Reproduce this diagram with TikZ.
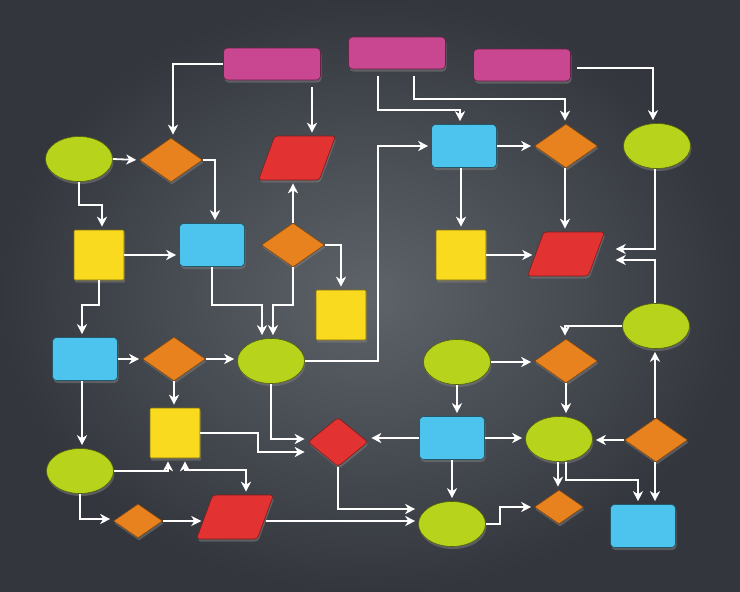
\documentclass[tikz,border=0pt]{standalone}
\usepackage{tikz}
\usetikzlibrary{arrows,arrows.meta,shapes.geometric,shadows}
\definecolor{bgcore}{HTML}{5E636A}
\definecolor{bgedge}{HTML}{33373D}
\definecolor{flowpink}{HTML}{C94690}
\definecolor{flowgreen}{HTML}{B7D31B}
\definecolor{floworange}{HTML}{E8821E}
\definecolor{flowred}{HTML}{E23232}
\definecolor{flowblue}{HTML}{4DC4EE}
\definecolor{flowyellow}{HTML}{F9DA1F}

\begin{document}
\begin{tikzpicture}[->,>={Stealth[length=10pt,width=10pt,inset=3pt]},
                    shorten >=3pt,x=1pt,y=-1pt,white,line width=1.8pt]
\tikzstyle{block}=[inner sep=0pt,line width=.6pt,
  drop shadow={shadow xshift=1pt,shadow yshift=-2.5pt,opacity=.5}]
\tikzstyle{term}=[block,ellipse,fill=flowgreen,draw=flowgreen!45!black,
  minimum width=67pt,minimum height=45pt]
\tikzstyle{dec}=[block,diamond,fill=floworange,draw=floworange!55!black,
  minimum width=63pt,minimum height=44pt]
\tikzstyle{smalldec}=[dec,minimum width=49pt,minimum height=34pt]
\tikzstyle{io}=[block,trapezium,trapezium left angle=70,
  trapezium right angle=110,trapezium stretches=true,inner sep=3pt,
  rounded corners=3pt,fill=flowred,draw=flowred!55!black,
  minimum width=77pt,minimum height=44pt]
\tikzstyle{proc}=[block,rectangle,rounded corners=4pt,fill=flowblue,
  draw=flowblue!45!black,minimum width=65pt,minimum height=43pt]
\tikzstyle{data}=[block,rectangle,rounded corners=1pt,fill=flowyellow,
  draw=flowyellow!50!black,minimum size=50pt]
\tikzstyle{start}=[block,rectangle,rounded corners=4pt,fill=flowpink,
  draw=flowpink!50!black,minimum width=97pt,minimum height=32pt]
\tikzstyle{check}=[block,diamond,rounded corners=3pt,fill=flowred,
  draw=flowred!55!black,minimum width=60pt,minimum height=49pt]

\shade[inner color=bgcore,outer color=bgedge] (0,0) rectangle (740,592);

\node[start] (p1) at (272,64) {};
\node[start] (p2) at (397,53) {};
\node[start] (p3) at (522,65) {};
\node[term] (e1) at (79,159) {};
\node[dec] (d1) at (171,160) {};
\node[io] (r1) at (297,158) {};
\node[proc] (b1) at (464,146) {};
\node[dec] (d2) at (566,146) {};
\node[term] (e2) at (657,146) {};
\node[data] (y1) at (99,255) {};
\node[proc] (b2) at (212,245) {};
\node[dec] (d3) at (293,245) {};
\node[data] (y2) at (341,315) {};
\node[data] (y3) at (461,255) {};
\node[io] (r2) at (566,254) {};
\node[term] (e3) at (656,326) {};
\node[proc] (b3) at (85,359) {};
\node[dec] (d4) at (174,359) {};
\node[term] (e4) at (271,361) {};
\node[term] (e5) at (457,362) {};
\node[dec] (d5) at (566,361) {};
\node[data] (y4) at (175,433) {};
\node[check] (rd) at (338,442) {};
\node[proc] (b4) at (452,438) {};
\node[term] (e6) at (559,439) {};
\node[dec] (d6) at (656,440) {};
\node[term] (e7) at (80,471) {};
\node[smalldec] (d7) at (138,521) {};
\node[io] (r3) at (235,517) {};
\node[term] (e8) at (452,524) {};
\node[smalldec] (d8) at (559,507) {};
\node[proc] (b5) at (643,526) {};

% top row
\draw (p1.west) -| ([xshift=2pt]d1.north);
\draw[shorten <=7pt] ([xshift=40pt]p1.south) -- ([xshift=15pt]r1.north);
\draw[shorten <=7pt] ([xshift=-19pt]p2.south) -- ++(0,41)
  -| ([xshift=-4pt]b1.north);
\draw[shorten <=7pt] ([xshift=17pt]p2.south) -- ++(0,30)
  -| ([xshift=-1pt]d2.north);
\draw[shorten <=6pt] ([yshift=-3pt]p3.east) -| ([xshift=-4pt]e2.north);

% left part
\draw (e1.east) -- (d1.west);
\draw (d1.east) -| ([xshift=3pt]b2.north);
\draw (e1.south) -- ++(0,23) -| ([xshift=3pt]y1.north);
\draw (y1.east) -- (y1.east -| b2.west);
\draw (d3.north) -- (d3.north |- r1.south);
\draw (d3.east) -| (y2.north);
\draw (y1.south) -- ++(0,25) -| ([xshift=-3pt]b3.north);
\draw (b2.south) -- ++(0,38) -| ([xshift=-9pt]e4.north);
\draw (d3.south) -- ++(0,38) -| ([xshift=2pt]e4.north);
\draw (b3.east) -- (d4.west);
\draw (d4.east) -- (d4.east -| e4.west);
\draw (d4.south) -- (d4.south |- y4.north);
\draw (e4.east) -- ++(73,0) |- (b1.west);
\draw ([xshift=-3pt]b3.south) -- ([xshift=-3pt]b3.south |- e7.north);
\draw (y4.east) -- ++(58,0) |- ([yshift=-10pt]rd.west);
\draw (e4.south) |- ([yshift=3pt]rd.west);
\draw (e7.east) -| ([xshift=-7pt]y4.south);
\draw[<->,shorten <=3pt] ([xshift=10pt]y4.south) -- ++(0,12)
  -| ([xshift=11pt]r3.north);
\draw (e7.south) |- ([yshift=2pt]d7.west);
\draw (d7.east) -- (d7.east -| r3.west);
\draw ([yshift=-4pt]r3.east) -- ([yshift=-4pt]r3.east -| e8.west);
\draw (rd.south) |- ([yshift=15pt]e8.west);

% right part
\draw (b1.east) -- (d2.west);
\draw ([xshift=-3pt]b1.south) -- ([xshift=-3pt]b1.south |- y3.north);
\draw ([xshift=-1pt]d2.south) -- ([xshift=-1pt]d2.south |- r2.north);
\draw (y3.east) -- (y3.east -| r2.west);
\draw ([xshift=-2pt]e2.south) |- ([xshift=16pt,yshift=5pt]r2.east);
\draw ([xshift=-1pt]e3.north) |- ([xshift=16pt,yshift=-6pt]r2.east);
\draw (e3.west) -| ([xshift=-1pt]d5.north);
\draw (e5.east) -- (e5.east -| d5.west);
\draw (e5.south) -- (e5.south |- b4.north);
\draw (d5.south) -- (d5.south |- e6.north);
\draw (b4.west) -- (b4.west -| rd.east);
\draw (b4.east) -- (b4.east -| e6.west);
\draw (d6.west) -- (d6.west -| e6.east);
\draw ([xshift=-1pt]d6.north) -- ([xshift=-1pt]d6.north |- e3.south);
\draw ([xshift=-1pt]d6.south) -- ([xshift=-1pt]d6.south |- b5.north);
\draw ([xshift=-1pt]e6.south) -- ([xshift=-1pt]e6.south |- d8.north);
\draw ([xshift=7pt]e6.south) -- ++(0,18) -| ([xshift=-5pt]b5.north);
\draw (b4.south) -- (b4.south |- e8.north);
\draw (e8.east) -- ++(14,0) |- (d8.west);
\end{tikzpicture}
\end{document}
